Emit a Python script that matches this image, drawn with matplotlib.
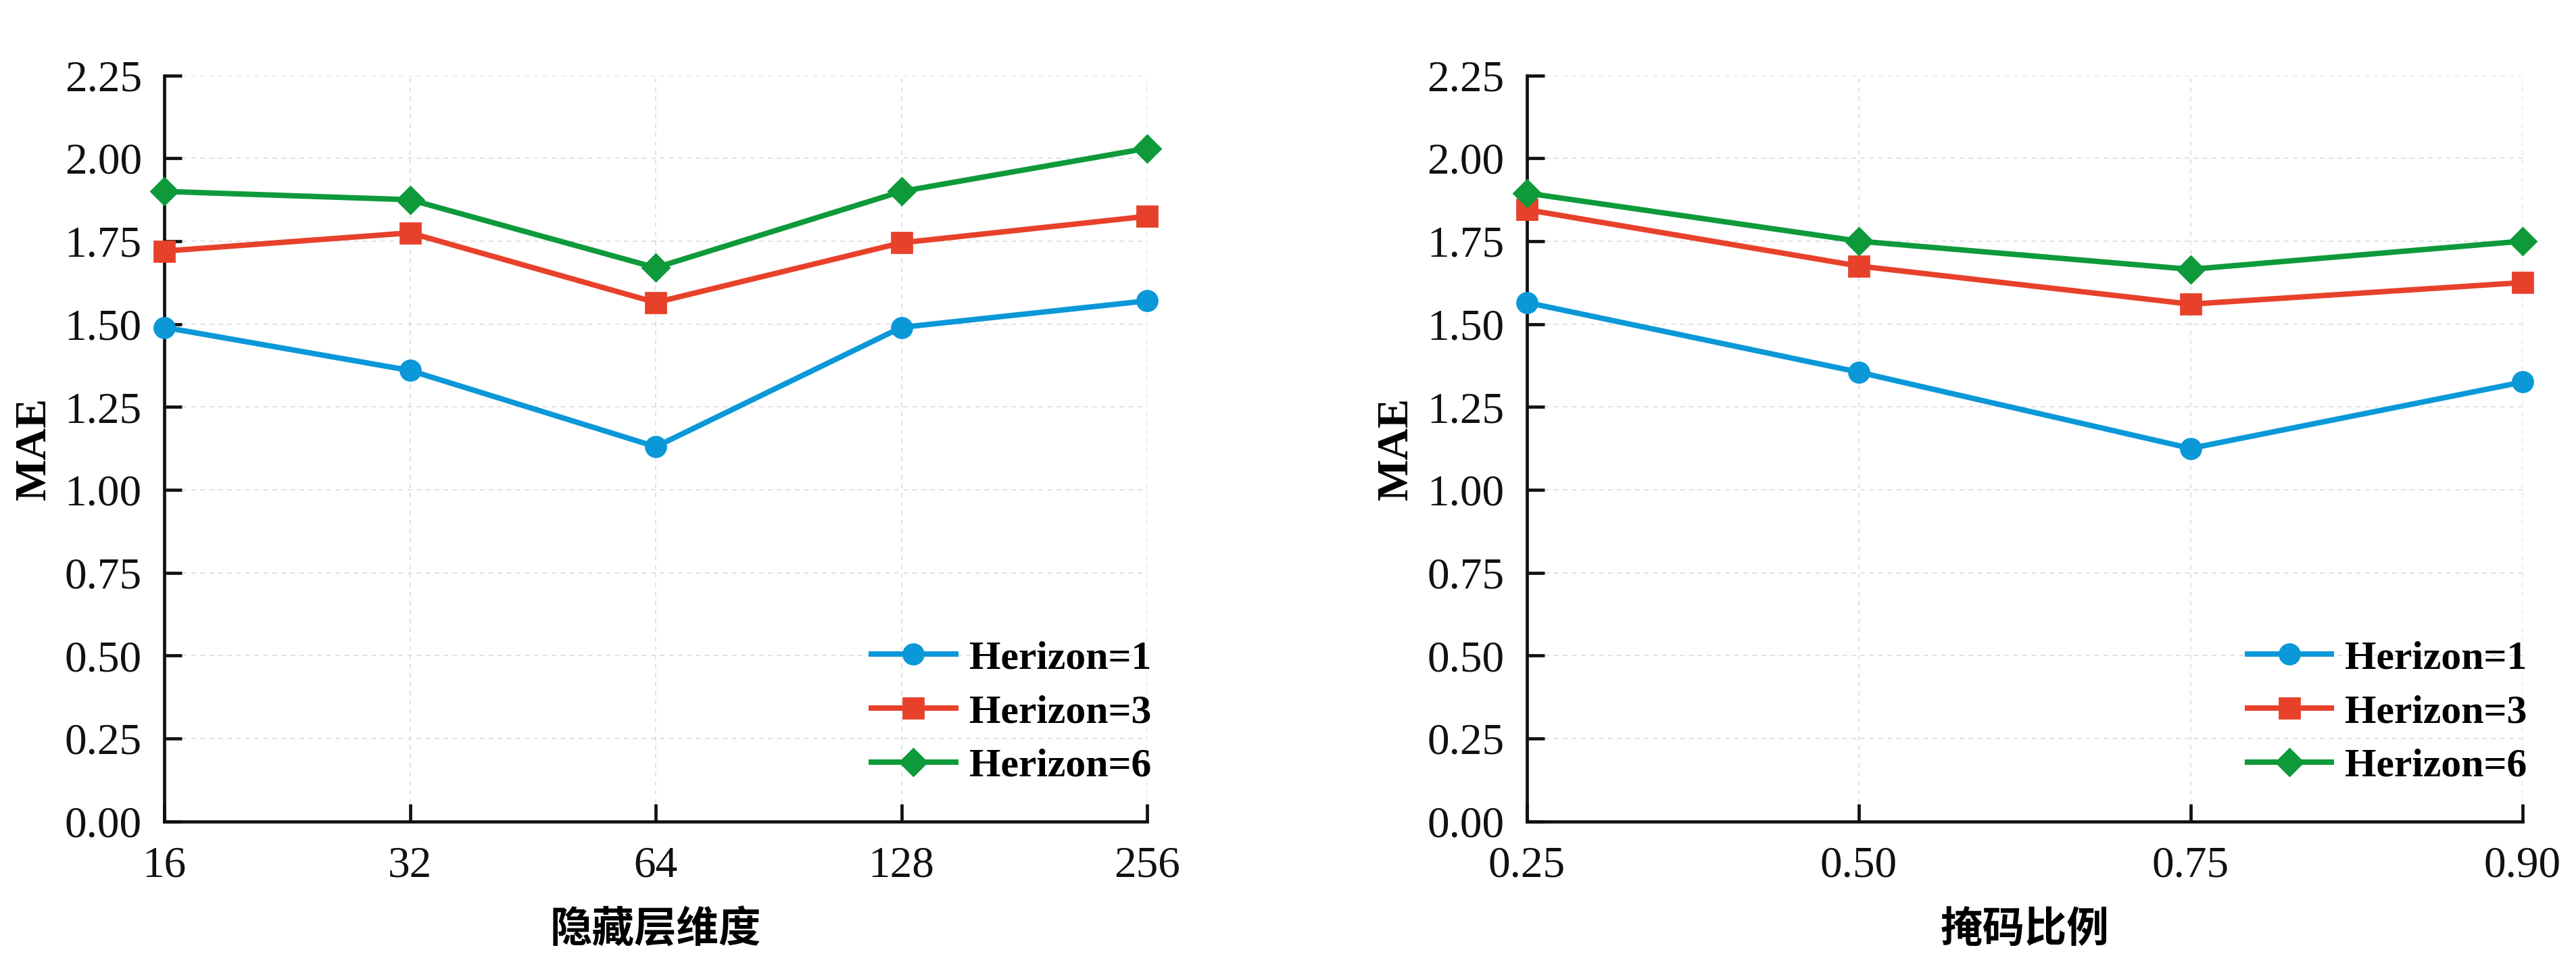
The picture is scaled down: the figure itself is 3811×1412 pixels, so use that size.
import matplotlib
matplotlib.use("Agg")
import matplotlib.pyplot as plt
import numpy as np

# ---- data ----
hidden_dims = ["16", "32", "64", "128", "256"]
hidden_h1 = [1.49, 1.36, 1.13, 1.49, 1.57]
hidden_h3 = [1.72, 1.775, 1.565, 1.745, 1.825]
hidden_h6 = [1.90, 1.875, 1.67, 1.90, 2.03]

mask_ratios = ["0.25", "0.50", "0.75", "0.90"]
mask_h1 = [1.565, 1.355, 1.125, 1.325]
mask_h3 = [1.845, 1.675, 1.56, 1.625]
mask_h6 = [1.895, 1.75, 1.665, 1.75]

series_labels = ["Herizon=1", "Herizon=3", "Herizon=6"]
yticks = [0.00, 0.25, 0.50, 0.75, 1.00, 1.25, 1.50, 1.75, 2.00, 2.25]

colors = ["#0b98d8", "#e8412b", "#0e9a3b"]
markers = ["o", "s", "D"]
msizes = [10.8, 10.8, 10.3]

serif = ["Liberation Serif", "DejaVu Serif"]
cjk = ["Noto Sans CJK SC", "DejaVu Sans"]
plt.rcParams["font.family"] = serif

fig = plt.figure(figsize=(19.06, 7.06), dpi=200)
ax1 = fig.add_axes([0.0638, 0.139, 0.4452 - 0.0638, 0.921 - 0.139])
ax2 = fig.add_axes([0.5925, 0.139, 0.979 - 0.5925, 0.921 - 0.139])

def style(ax, cats, series, xlabel):
    x = np.arange(len(cats))
    for vals, c, m, ms, lab in zip(series, colors, markers, msizes, series_labels):
        ax.plot(x, vals, color=c, marker=m, markersize=ms, linewidth=2.9,
                label=lab, clip_on=False, zorder=3)
    ax.set_xlim(0, len(cats) - 1)
    ax.set_ylim(0, 2.25)
    ax.set_xticks(x)
    ax.set_xticklabels(cats)
    ax.set_yticks(yticks)
    ax.set_yticklabels([f"{v:.2f}" for v in yticks])
    for s in ["top", "right"]:
        ax.spines[s].set_visible(False)
    for s in ["left", "bottom"]:
        ax.spines[s].set_linewidth(1.7)
        ax.spines[s].set_color("#111111")
    ax.tick_params(axis="both", direction="in", length=9.5, width=1.7,
                   labelsize=23.5, colors="#111111")
    ax.tick_params(axis="y", pad=12)
    ax.tick_params(axis="x", pad=13)
    ax.grid(True, linestyle=(0, (4, 4)), linewidth=0.6, color="#dcdcdc", zorder=0)
    ax.set_ylabel("MAE", fontsize=23.5, fontweight="bold", labelpad=5.5)
    ax.set_xlabel(xlabel, fontsize=22.5, family=cjk, fontweight="bold", labelpad=12)
    ax.legend(loc="lower right", bbox_to_anchor=(1.041, 0.0), frameon=False,
              prop={"family": serif, "weight": "bold", "size": 21.5},
              handlelength=2.08, labelspacing=0.42,
              handletextpad=0.335, borderaxespad=0.5)

style(ax1, hidden_dims, [hidden_h1, hidden_h3, hidden_h6], "隐藏层维度")
style(ax2, mask_ratios, [mask_h1, mask_h3, mask_h6], "掩码比例")

fig.savefig("out.png", dpi=200)
